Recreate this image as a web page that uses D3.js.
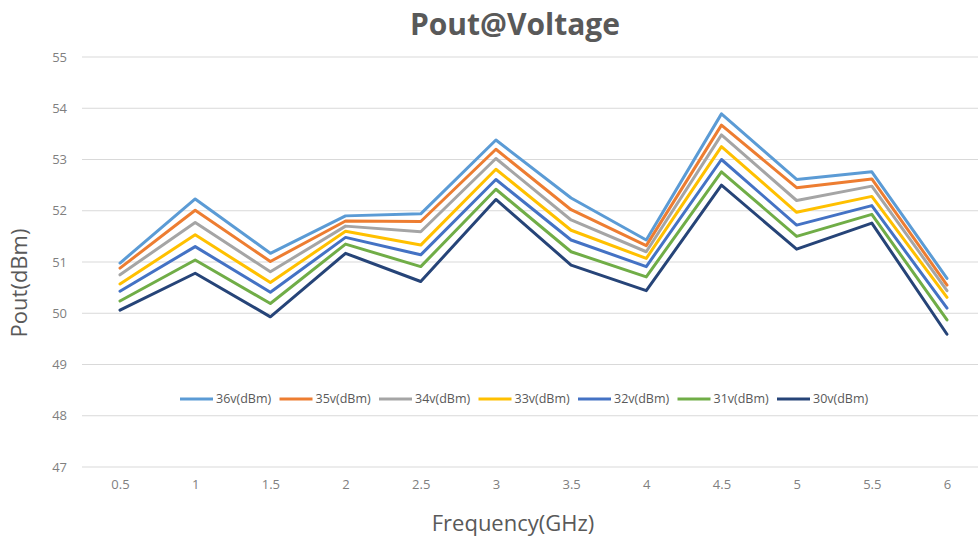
<!DOCTYPE html>
<html>
<head>
<meta charset="utf-8">
<script src="https://cdn.jsdelivr.net/npm/d3@7/dist/d3.min.js"></script>
<style>
  html, body { margin: 0; padding: 0; background: #fff; }
  svg { display: block; }
</style>
</head>
<body>
<svg id="chart" width="978" height="544"></svg>
<script>
const categories = ["0.5","1","1.5","2","2.5","3","3.5","4","4.5","5","5.5","6"];
const seriesNames = ["36v(dBm)","35v(dBm)","34v(dBm)","33v(dBm)","32v(dBm)","31v(dBm)","30v(dBm)"];
const v36 = [50.98, 52.23, 51.17, 51.90, 51.94, 53.38, 52.25, 51.43, 53.89, 52.61, 52.76, 50.68];
const v35 = [50.88, 52.01, 51.01, 51.80, 51.79, 53.20, 52.02, 51.32, 53.67, 52.45, 52.62, 50.55];
const v34 = [50.75, 51.77, 50.81, 51.70, 51.59, 53.02, 51.82, 51.20, 53.48, 52.20, 52.48, 50.44];
const v33 = [50.57, 51.53, 50.60, 51.60, 51.33, 52.81, 51.62, 51.07, 53.25, 51.97, 52.28, 50.31];
const v32 = [50.43, 51.30, 50.41, 51.48, 51.14, 52.61, 51.43, 50.91, 53.00, 51.72, 52.10, 50.10];
const v31 = [50.24, 51.04, 50.19, 51.35, 50.91, 52.42, 51.20, 50.71, 52.76, 51.50, 51.93, 49.87];
const v30 = [50.06, 50.78, 49.93, 51.17, 50.62, 52.22, 50.94, 50.44, 52.50, 51.25, 51.76, 49.59];
const seriesValues = [v36, v35, v34, v33, v32, v31, v30];
const colors = ["#5B9BD5","#ED7D31","#A5A5A5","#FFC000","#4472C4","#70AD47","#264478"];
const yTicks = [47,48,49,50,51,52,53,54,55];

const svg = d3.select("#chart");
const plotLeft = 82, plotRight = 978, plotTop = 57, plotBottom = 467;

const x = d3.scalePoint().domain(categories).range([120, 947]);
const y = d3.scaleLinear().domain([47, 55]).range([plotBottom, plotTop]);

// gridlines
svg.append("g").selectAll("line").data(yTicks).join("line")
  .attr("x1", plotLeft).attr("x2", plotRight)
  .attr("y1", d => y(d)).attr("y2", d => y(d))
  .attr("stroke", "#d9d9d9").attr("stroke-width", 1);

// y axis labels
const yAxis = d3.axisLeft(y).tickValues(yTicks).tickSize(0).tickPadding(0).tickFormat(d3.format("d"));
const yg = svg.append("g").attr("transform", `translate(${plotLeft - 15},0)`).call(yAxis);
yg.select(".domain").remove();
yg.selectAll("text").attr("fill", "#7f7f7f").style("font-family", "'Open Sans', sans-serif").style("font-size", "13px");

// x axis labels
const xAxis = d3.axisBottom(x).tickSize(0).tickPadding(0);
const xg = svg.append("g").attr("transform", `translate(0,${plotBottom + 13})`).call(xAxis);
xg.select(".domain").remove();
xg.selectAll("text").attr("fill", "#7f7f7f").style("font-family", "'Open Sans', sans-serif").style("font-size", "13px");

// lines
const line = d3.line().x((d, i) => x(categories[i])).y(d => y(d));
svg.append("g").selectAll("path").data(seriesValues).join("path")
  .attr("d", d => line(d))
  .attr("fill", "none")
  .attr("stroke", (d, i) => colors[i])
  .attr("stroke-width", 3)
  .attr("stroke-linejoin", "round")
  .attr("stroke-linecap", "round");

// legend
const legend = svg.append("g").attr("transform", "translate(180,399)");
const items = legend.selectAll("g").data(seriesNames).join("g")
  .attr("transform", (d, i) => `translate(${i * 99.5},0)`);
items.append("line").attr("x1", 0).attr("x2", 33).attr("y1", 0).attr("y2", 0)
  .attr("stroke", (d, i) => colors[i]).attr("stroke-width", 3);
items.append("text").attr("x", 36).attr("y", 0).attr("dy", "0.35em")
  .text(d => d).attr("fill", "#595959")
  .style("font-family", "'Open Sans', sans-serif").style("font-size", "12.5px");

// title
svg.append("text").attr("x", 515).attr("y", 35).attr("text-anchor", "middle")
  .text("Pout@Voltage").attr("fill", "#595959")
  .style("font-family", "'Open Sans', sans-serif").style("font-weight", "bold").style("font-size", "30px");

// axis titles
svg.append("text").attr("transform", "translate(27,283) rotate(-90)").attr("text-anchor", "middle")
  .text("Pout(dBm)").attr("fill", "#595959")
  .style("font-family", "'Open Sans', sans-serif").style("font-size", "22px");
svg.append("text").attr("x", 513).attr("y", 531).attr("text-anchor", "middle")
  .text("Frequency(GHz)").attr("fill", "#595959")
  .style("font-family", "'Open Sans', sans-serif").style("font-size", "22px");
</script>
</body>
</html>
